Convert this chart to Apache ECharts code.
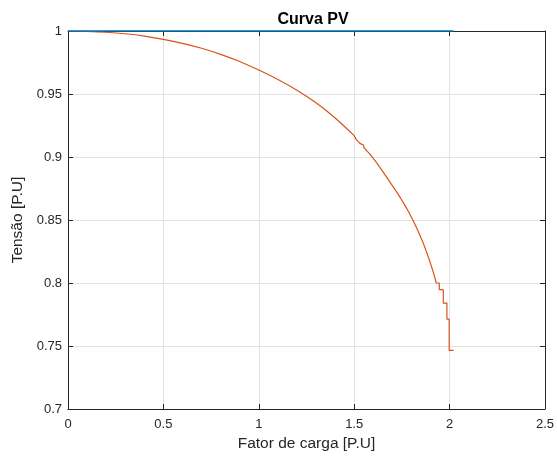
<!DOCTYPE html>
<html>
<head>
<meta charset="utf-8">
<title>Curva PV</title>
<script src="https://cdn.jsdelivr.net/npm/echarts@6/dist/echarts.min.js"></script>
<style>
  html, body { margin: 0; padding: 0; background: #fff; }
  #chart { width: 557px; height: 460px; }
</style>
</head>
<body>
<div id="chart"></div>
<script>
// eixos
const xTicks = [0, 0.5, 1, 1.5, 2, 2.5]
const yTicks = [0.7, 0.75, 0.8, 0.85, 0.9, 0.95, 1]

// tensao de referencia (linha azul)
const refX = [0, 2.021]
const refY = [1, 1]

// curva PV - trecho suave
const pvX = [0, 0.1, 0.2, 0.3, 0.4, 0.5, 0.6, 0.7, 0.8, 0.9, 1.0, 1.1, 1.2, 1.3, 1.4, 1.5]
const pvY = [1.0, 0.9997, 0.999, 0.9978, 0.996, 0.9934, 0.9902, 0.9863, 0.9815, 0.9758, 0.969, 0.9615, 0.953, 0.943, 0.931, 0.917]

// curva PV - trecho em degraus perto do ponto de colapso
const stepX = [1.5, 1.51, 1.52, 1.53, 1.54, 1.55, 1.56, 1.57, 1.58, 1.59, 1.6, 1.61, 1.62, 1.63, 1.64, 1.65, 1.66, 1.67, 1.68, 1.69,
    1.7, 1.71, 1.72, 1.73, 1.74, 1.75, 1.76, 1.77, 1.78, 1.79, 1.8, 1.81, 1.82, 1.83, 1.84, 1.85, 1.86, 1.87, 1.88, 1.89,
    1.9, 1.91, 1.92, 1.93, 1.946, 1.967, 1.986, 1.998, 2.021]
const stepY = [0.917, 0.9155, 0.914, 0.9124, 0.9108, 0.9093, 0.9076, 0.906, 0.9043, 0.9026, 0.9008, 0.8989, 0.897, 0.895, 0.8928, 0.8905, 0.8884, 0.8862, 0.884, 0.8818,
    0.8795, 0.8773, 0.8751, 0.8728, 0.8705, 0.8681, 0.8657, 0.8632, 0.8606, 0.8579, 0.8551, 0.8522, 0.8492, 0.8461, 0.8429, 0.8395, 0.836, 0.8323, 0.8284, 0.8243,
    0.82, 0.8155, 0.8108, 0.8058, 0.8, 0.7947, 0.7841, 0.7714, 0.7465]

const zip = (xs, ys) => xs.map((x, i) => [x, ys[i]])

const fontFamily = 'Liberation Sans, Arial, sans-serif'
const axisColor = '#262626'
const gridColor = '#e3e3e3'

const chart = echarts.init(document.getElementById('chart'))

const baseX = {
    type: 'value',
    min: xTicks[0],
    max: xTicks[xTicks.length - 1],
    interval: xTicks[1] - xTicks[0],
    axisLine: { show: true, onZero: false, lineStyle: { color: axisColor, width: 1 } },
    axisTick: { show: true, inside: true, length: 5, lineStyle: { color: axisColor } }
}
const baseY = {
    type: 'value',
    min: yTicks[0],
    max: yTicks[yTicks.length - 1],
    interval: 0.05,
    axisLine: { show: true, onZero: false, lineStyle: { color: axisColor, width: 1 } },
    axisTick: { show: true, inside: true, length: 5, lineStyle: { color: axisColor } }
}

chart.setOption({
    animation: false,
    backgroundColor: '#fff',
    title: {
        text: 'Curva PV',
        left: 308,
        top: 7,
        textAlign: 'center',
        textStyle: { fontFamily, fontSize: 16, fontWeight: 'bold', color: '#000' }
    },
    grid: { left: 68, right: 9, top: 31, bottom: 51 },
    xAxis: [
        {
            ...baseX,
            position: 'bottom',
            name: 'Fator de carga [P.U]',
            nameLocation: 'middle',
            nameGap: 24,
            nameTextStyle: { fontFamily, fontSize: 15.5, color: axisColor },
            axisLabel: {
                fontFamily, fontSize: 13, color: axisColor, margin: 9,
                formatter: v => String(v)
            },
            splitLine: { show: true, lineStyle: { color: gridColor, width: 1 } }
        },
        {
            ...baseX,
            position: 'top',
            axisLabel: { show: false },
            splitLine: { show: false }
        }
    ],
    yAxis: [
        {
            ...baseY,
            position: 'left',
            name: 'Tensão [P.U]',
            nameLocation: 'middle',
            nameGap: 39,
            nameTextStyle: { fontFamily, fontSize: 15.5, color: axisColor },
            axisLabel: {
                fontFamily, fontSize: 13, color: axisColor, margin: 6,
                formatter: v => String(+v.toFixed(2))
            },
            splitLine: { show: true, lineStyle: { color: gridColor, width: 1 } }
        },
        {
            ...baseY,
            position: 'right',
            axisLabel: { show: false },
            splitLine: { show: false }
        }
    ],
    series: [
        {
            type: 'line',
            data: zip(pvX, pvY),
            smooth: 0.3,
            showSymbol: false,
            symbol: 'none',
            lineStyle: { color: '#D95319', width: 1.2 },
            z: 3
        },
        {
            type: 'line',
            data: zip(stepX, stepY),
            step: 'start',
            showSymbol: false,
            symbol: 'none',
            lineStyle: { color: '#D95319', width: 1.2 },
            z: 3
        },
        {
            type: 'line',
            data: zip(refX, refY),
            showSymbol: false,
            symbol: 'none',
            clip: false,
            lineStyle: { color: '#0072BD', width: 1.5 },
            z: 4
        }
    ]
})
</script>
</body>
</html>
